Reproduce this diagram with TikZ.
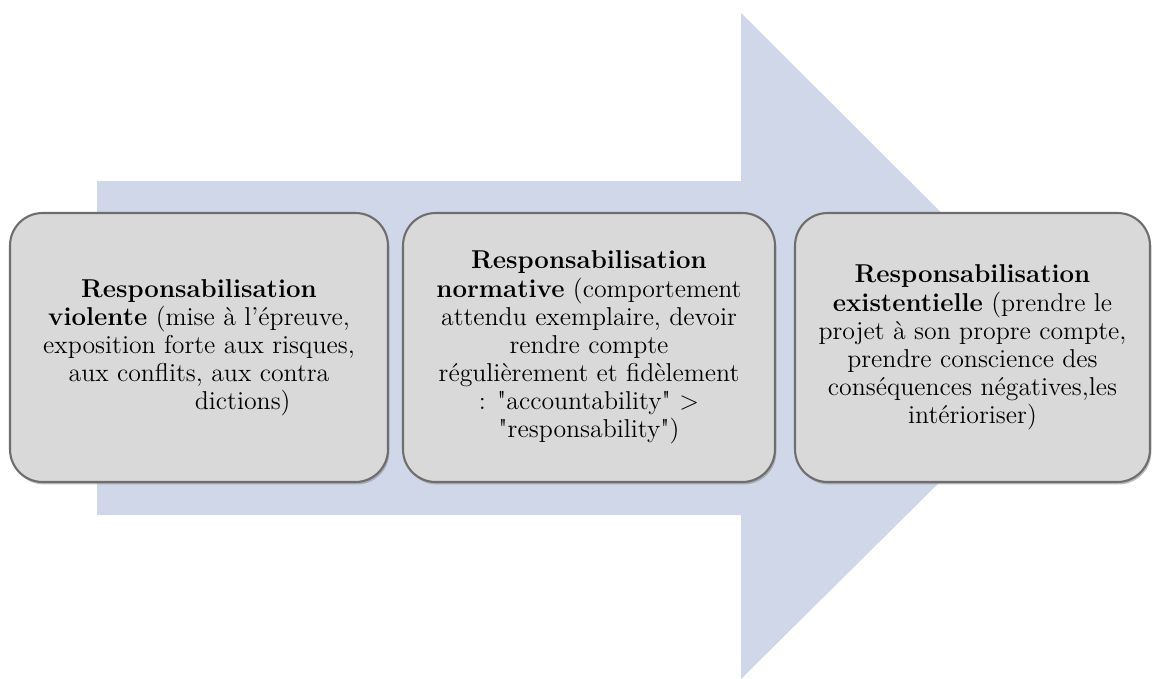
\documentclass[tikz,border=0pt]{standalone}
\usepackage{tikz}
\usetikzlibrary{positioning,shadows}
\definecolor{arrowblue}{RGB}{207,215,232}
\definecolor{boxgray}{RGB}{217,217,217}
\definecolor{edgegray}{RGB}{110,110,110}
\tikzset{
  stage/.style={draw=edgegray, line width=1.2pt, fill=boxgray, rounded corners=0.65cm,
                align=center, font=\fontsize{14.7}{16}\selectfont,
                minimum height=5.38cm, inner sep=2pt,
                drop shadow={shadow xshift=0.8pt, shadow yshift=-1.4pt, opacity=0.5}},
}
\begin{document}
\begin{tikzpicture}[x=0.02cm, y=-0.02cm]
    \useasboundingbox (0,0) rectangle (1152,679);
    \fill[arrowblue] (97,181) -- (741,181) -- (741,13) -- (1076,347)
      -- (741,679) -- (741,515) -- (97,515) -- cycle;

    \node[stage, minimum width=7.56cm] (violente) at (199,347.5)
      {\textbf{Responsabilisation}\\
       \textbf{violente} (mise à l'épreuve,\\
       exposition forte aux risques,\\
       aux conflits, aux contra\\
       \hspace*{1.75cm}dictions)};
    \node[stage, minimum width=7.44cm] (normative) at (589,347.5)
      {\textbf{Responsabilisation}\\
       \textbf{normative} (comportement\\
       attendu exemplaire, devoir\\
       rendre compte\\
       régulièrement et fidèlement\\
       : \textquotedbl accountability\textquotedbl\ >\\
       \textquotedbl responsability\textquotedbl)};
    \node[stage, minimum width=7.1cm] (existentielle) at (972.5,347.5)
      {\textbf{Responsabilisation}\\
       \textbf{existentielle} (prendre le\\
       projet à son propre compte,\\
       prendre conscience des\\
       conséquences négatives,les\\
       intérioriser)};
\end{tikzpicture}
\end{document}
